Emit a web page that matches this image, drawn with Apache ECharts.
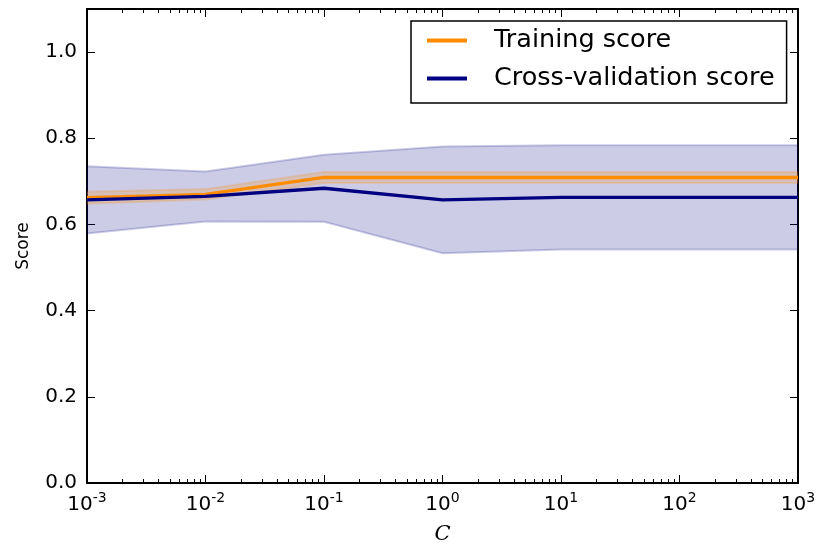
<!DOCTYPE html>
<html>
<head>
<meta charset="utf-8">
<script src="https://cdn.jsdelivr.net/npm/echarts@6/dist/echarts.min.js"></script>
<style>
  html, body { margin: 0; padding: 0; background: #fff; }
  #chart { width: 818px; height: 545px; }
</style>
</head>
<body>
<div id="chart"></div>
<script>
// values of C (log x axis)
var C_values = [0.001, 0.01, 0.1, 1, 10, 100, 1000];
var train_mean = [0.662, 0.670, 0.709, 0.709, 0.709, 0.709, 0.709];
var train_std  = [0.014, 0.012, 0.013, 0.013, 0.013, 0.013, 0.013];
var cv_mean = [0.657, 0.665, 0.684, 0.657, 0.663, 0.663, 0.663];
var cv_std  = [0.078, 0.058, 0.078, 0.124, 0.121, 0.121, 0.121];

var FONT = 'DejaVu Sans';
var ORANGE = '#ff8c00';
var NAVY = '#000080';

var chart = echarts.init(document.getElementById('chart'));

function pts(vals){
  var out = [];
  for (var i = 0; i < C_values.length; i++) {
    out.push([Math.log10(C_values[i]), vals[i]]);
  }
  return out;
}

// minor tick positions (2..9 x each decade)
var minor = [];
for (var d = -3; d < 3; d++) {
  for (var k = 2; k <= 9; k++) minor.push(d + Math.log10(k));
}

function xAx(pos, isMinor, showLabel){
  return {
    type: 'value', min: -3, max: 3, interval: 1, position: pos,
    axisLine: { show: !isMinor, onZero: false, lineStyle: { color: '#000', width: 2 } },
    axisTick: isMinor
      ? { show: true, inside: true, length: 4, customValues: minor, lineStyle: { color: '#000', width: 1 } }
      : { show: true, inside: true, length: 8, lineStyle: { color: '#000', width: 1 } },
    axisLabel: showLabel ? {
      show: true, margin: 8,
      formatter: function(v){ return '{b|10}{s|' + v + '}'; },
      rich: {
        b: { fontFamily: FONT, fontSize: 20, color: '#000', lineHeight: 24, verticalAlign: 'bottom' },
        s: { fontFamily: FONT, fontSize: 14, color: '#000', lineHeight: 14, verticalAlign: 'top' }
      }
    } : { show: false },
    splitLine: { show: false },
    name: showLabel ? 'C' : '',
    nameLocation: 'middle', nameGap: 41,
    nameTextStyle: { fontFamily: 'DejaVu Serif', fontStyle: 'italic', fontSize: 21, color: '#000' }
  };
}

function yAx(pos, showLabel){
  return {
    type: 'value', min: 0, max: 1.1, interval: 0.2, position: pos,
    axisLine: { show: true, onZero: false, lineStyle: { color: '#000', width: 2 } },
    axisTick: { show: true, inside: true, length: 8, lineStyle: { color: '#000', width: 1 } },
    axisLabel: showLabel ? {
      show: true, margin: 10, showMaxLabel: false,
      fontFamily: FONT, fontSize: 20, color: '#000',
      formatter: function(v){ return v.toFixed(1); }
    } : { show: false },
    splitLine: { show: false },
    name: showLabel ? 'Score' : '',
    nameLocation: 'middle', nameGap: 55, nameRotate: 90,
    nameTextStyle: { fontFamily: FONT, fontSize: 17, color: '#000' }
  };
}

// filled band mean +- std, drawn as one polygon through the axis scales
function bandSeries(mean, std, col){
  var up = mean.map(function(m, i){ return m + std[i]; });
  var lo = mean.map(function(m, i){ return m - std[i]; });
  var upPts = pts(up), loPts = pts(lo);
  return {
    type: 'custom', coordinateSystem: 'cartesian2d', silent: true, z: 1, clip: true,
    data: upPts,
    renderItem: function(params, api){
      if (params.dataIndex !== 0) return;
      var poly = [];
      for (var i = 0; i < upPts.length; i++) poly.push(api.coord(upPts[i]));
      for (var j = loPts.length - 1; j >= 0; j--) poly.push(api.coord(loPts[j]));
      return { type: 'polygon', shape: { points: poly },
        style: { fill: col, stroke: col, lineWidth: 2 } };
    }
  };
}

var series = [
  bandSeries(cv_mean, cv_std, 'rgba(0,0,128,0.2)'),
  bandSeries(train_mean, train_std, 'rgba(255,140,0,0.2)'),
  { name: 'Training score', type: 'line', data: pts(train_mean), symbol: 'none',
    lineStyle: { color: ORANGE, width: 3.3 }, itemStyle: { color: ORANGE }, z: 3 },
  { name: 'Cross-validation score', type: 'line', data: pts(cv_mean), symbol: 'none',
    lineStyle: { color: NAVY, width: 3.3 }, itemStyle: { color: NAVY }, z: 3 }
];

var option = {
  animation: false,
  backgroundColor: '#fff',
  grid: { left: 87, right: 20, top: 9, bottom: 62, outerBoundsMode: 'none' },
  legend: {
    data: ['Training score', 'Cross-validation score'],
    orient: 'vertical', left: 411, top: 21,
    padding: [5, 12, 10, 16],
    itemWidth: 40, itemHeight: 4, itemGap: 9, icon: 'rect',
    borderColor: '#000', borderWidth: 1.5, backgroundColor: '#fff',
    textStyle: { fontFamily: FONT, fontSize: 25.5, color: '#000', lineHeight: 29, padding: [0, 0, 0, 22] }
  },
  xAxis: [xAx('bottom', false, true), xAx('bottom', true, false), xAx('top', false, false), xAx('top', true, false)],
  yAxis: [yAx('left', true), yAx('right', false)],
  series: series
};
chart.setOption(option);
</script>
</body>
</html>
